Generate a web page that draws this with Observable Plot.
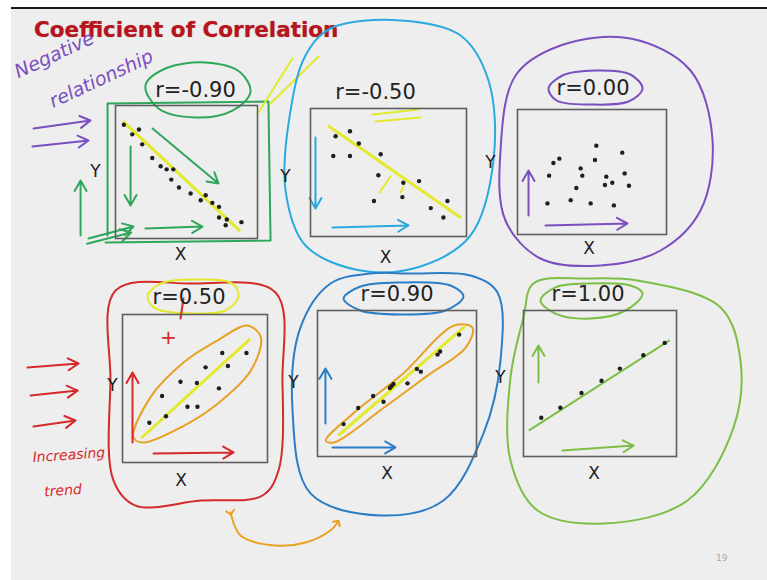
<!DOCTYPE html>
<html>
<head>
<meta charset="utf-8">
<script src="https://cdn.jsdelivr.net/npm/d3@7"></script>
<script src="https://cdn.jsdelivr.net/npm/@observablehq/plot@0.6"></script>
<style>
  html, body { margin: 0; padding: 0; background: #fff; }
  #slide { position: relative; width: 767px; height: 580px; overflow: hidden; background: #fff; }
  #sheet { position: absolute; left: 11px; top: 7px; right: 0; bottom: 0; background: #eeeeee; border-top: 2px solid #1b1b1b; }
  #title { position: absolute; left: 34px; top: 17px; font: bold 21.5px "DejaVu Sans", sans-serif; color: #b5151d; white-space: nowrap; text-shadow: 0 0 1px rgba(150,0,0,0.5); }
  #pageno { position: absolute; left: 716px; top: 553px; font: 9px "DejaVu Sans", sans-serif; color: #a8a8a8; }
  .panel { position: absolute; }
  .panel svg { overflow: visible !important; background: transparent !important; }
</style>
</head>
<body>
<div id="slide">
  <div id="sheet"></div>
  <div id="title">Coefficient of Correlation</div>
  <div id="pageno">19</div>
</div>
<script>
// Correlation labels, one per panel
const rLabels = ["r=-0.90", "r=-0.50", "r=0.00", "r=0.50", "r=0.90", "r=1.00"];

// Scatter points of each panel, [x, y] on a 0–10 scale
const pointsNeg90 = [[0.59,8.55],[1.18,7.83],[1.65,8.2],[1.88,7.08],[2.59,6.05],[3.18,5.43],[3.6,5.2],[4.07,5.2],[3.93,4.43],[4.47,3.83],[5.29,3.38],[6.0,2.88],[6.35,3.25],[6.82,2.68],[7.29,2.38],[7.29,1.58],[7.84,1.43],[7.76,1.0],[8.87,1.23]];
const pointsNeg50 = [[1.61,7.83],[2.53,8.22],[3.1,7.26],[1.46,6.29],[2.53,6.29],[4.5,6.42],[4.35,4.78],[5.95,4.2],[6.96,4.33],[4.07,2.77],[5.89,3.08],[8.78,2.77],[7.71,2.22],[8.52,1.49]];
const pointsZero = [[5.29,7.11],[7.03,6.55],[5.2,5.96],[2.41,5.72],[2.81,6.07],[4.24,5.29],[4.35,4.71],[2.12,4.71],[7.19,4.89],[5.96,4.63],[5.87,3.96],[6.36,4.14],[7.48,3.9],[3.95,3.72],[2.01,2.49],[3.57,2.75],[4.91,2.49],[6.47,2.33]];
const pointsPos50 = [[6.88,7.4],[8.55,7.4],[5.73,6.43],[7.27,6.52],[4.0,5.46],[5.13,5.37],[6.65,5.01],[2.73,4.49],[4.48,3.77],[5.17,3.77],[3.0,3.12],[1.85,2.69]];
const pointsPos90 = [[8.91,8.35],[7.71,7.19],[7.55,6.98],[6.25,6.0],[6.5,5.81],[5.66,5.01],[4.78,4.97],[4.65,4.81],[4.55,4.69],[3.5,4.14],[4.15,3.75],[2.56,3.32],[1.64,2.22]];
const pointsPos100 = [[1.16,2.65],[2.41,3.34],[3.79,4.35],[5.1,5.19],[6.3,6.02],[7.83,6.93],[9.23,7.78]];

// Pen annotations, in each panel's own units
const trendNeg90 = [[0.59,8.75],[8.71,0.63]];
const trendNeg50 = [[1.18,8.62],[9.59,1.51]];
const trendPos50 = [[1.34,1.69],[8.73,8.28]];
const trendPos90 = [[1.36,1.49],[9.22,8.86]];
const trendPos100 = [[0.39,1.81],[9.52,7.94]];

const boxNeg90 = [[-0.56,0.23],[-0.56,10.15],[10.77,10.3],[10.92,-0.15],[-0.7,-0.3]];
const ringNeg90 = [[2.11,11.5],[3.52,12.78],[6.34,13.23],[8.8,12.48],[9.5,10.98],[8.24,9.62],[5.63,9.1],[3.03,9.77]];
const arrowsNeg90 = [[1.06,6.92,1.06,2.48],[2.11,0.75,6.13,0.9],[2.61,8.27,7.25,4.14],[-2.46,0.23,-2.46,4.36],[-1.9,0,1.27,0.9],[-2.0,-0.4,1.1,0.45]];
const strokesNeg90 = [[[10.07,9.47],[12.46,13.53]],[[10.92,10.15],[14.3,13.68]]];
const purpleArrows = [[-5.77,8.27,-1.76,8.87],[-5.85,6.92,-1.9,7.37]];
const negativeNote = [["Negative", -4.3, 13.8], ["relationship", -1.0, 12.0]];

const loopNeg50 = [[1.28,16.25],[5.77,16.88],[9.62,15.7],[11.41,12.19],[11.73,5.94],[10.26,0.08],[7.05,-2.34],[3.21,-2.66],[-0.32,-0.7],[-1.6,3.59],[-1.28,9.84],[-0.32,14.14]];
const arrowsNeg50 = [[0.32,7.73,0.32,2.19],[1.41,0.7,6.28,0.86]];
const strokesNeg50 = [[[3.97,9.53],[6.92,9.92]],[[4.17,8.98],[7.05,9.3]],[[5.13,4.69],[4.42,3.44]],[[5.96,3.91],[5.77,3.44]]];

const loopZero = [[-0.13,12.72],[2.89,15.12],[7.58,15.68],[11.61,13.12],[13.09,7.52],[12.28,1.92],[9.6,-1.28],[5.57,-2.48],[1.54,-1.92],[-0.81,1.12],[-1.14,6.72]];
const ringZero = [[2.08,11.68],[3.02,12.72],[5.23,13.12],[7.58,12.8],[8.39,11.68],[7.45,10.64],[4.9,10.4],[2.62,10.72]];
const arrowsZero = [[0.74,1.52,0.74,5.12],[1.88,0.72,7.38,0.88]];

const loopPos50 = [[-0.48,11.62],[4.69,12.09],[10.55,11.49],[11.03,5.54],[10.76,-0.54],[9.66,-2.23],[5.38,-2.57],[0.9,-2.91],[-0.62,-1.22],[-0.83,5.54]];
const ringPos50 = [[1.72,11.22],[2.62,12.09],[5.03,12.36],[7.59,12.09],[8.0,11.22],[7.1,10.27],[4.69,10.07],[2.28,10.41]];
const cloudPos50 = [[0.76,1.69],[1.92,4.4],[4.23,6.77],[6.54,8.24],[8.61,9.26],[9.54,8.47],[8.85,6.21],[6.54,3.95],[4.23,2.48],[1.45,1.35]];
const arrowsPos50 = [[0.69,1.35,0.69,6.08],[2.14,0.61,7.66,0.68]];
const redArrows = [[-6.55,6.42,-3.03,6.69],[-6.34,4.53,-3.1,4.86],[-6.14,2.43,-3.24,2.84]];
const redTick = [[4.21,11.08],[4.0,9.73]];
const trendNote = [["Increasing", -3.7, 0.5], ["trend", -4.1, -1.9]];
const plusMark = [[3.17, 8.45]];
const linkCurve = [[7.45,-3.38],[8.14,-4.93],[10.55,-5.61],[12.62,-5.41],[14.34,-4.59],[14.83,-4.05]];

const loopPos90 = [[3.33,12.53],[5.85,12.53],[9.62,12.4],[11.32,11.23],[11.51,6.58],[10.44,1.58],[7.92,-3.01],[3.96,-4.04],[-0.44,-2.53],[-1.57,3.15],[-1.07,8.84],[0.82,11.85]];
const ringPos90 = [[1.64,10.82],[2.7,11.64],[5.22,11.92],[8.36,11.71],[9.18,10.96],[8.05,10.0],[5.22,9.73],[2.7,10.0]];
const cloudPos90 = [[0.52,1.08],[2.31,3.02],[5.24,5.54],[8.6,8.97],[9.75,8.81],[9.33,7.48],[6.92,5.54],[4.19,3.36],[1.05,0.96]];
const arrowsPos90 = [[0.5,2.26,0.5,6.03],[0.94,0.62,4.91,0.62]];

const loopPos100 = [[0.65,11.85],[4.18,12.19],[7.45,12.05],[12.88,10.21],[14.18,6.58],[13.73,1.99],[10.72,-3.01],[5.23,-4.59],[0.92,-3.7],[-0.85,-0.27],[-0.85,5.41],[0,9.52]];
const ringPos100 = [[1.11,10.68],[2.09,11.58],[4.38,11.85],[6.99,11.71],[7.78,11.16],[6.67,10.0],[4.38,9.45],[2.09,9.79]];
const arrowsPos100 = [[0.98,5.07,0.98,7.6],[2.55,0.41,7.19,0.75]];

// Pen colours
const ink = {
  green: "#2fa75b", blue: "#2aa9e0", purple: "#7b4fbf", red: "#d42a2a",
  navy: "#2b7dc6", lime: "#7dbf45", yellow: "#e3ea2e", orange: "#e8a223"
};

// Where each panel's frame sits on the slide, and text offsets around it
const layout = [
  {left: 115, top: 105, width: 142, height: 133, lab: [9, -15],  xl: [-6, 16],  yl: [-20, 0]},
  {left: 310, top: 108, width: 156, height: 128, lab: [-13, -16], xl: [-3, 21], yl: [-25, 4]},
  {left: 517, top: 109, width: 149, height: 125, lab: [1, -21],  xl: [-3, 14],  yl: [-27, -9]},
  {left: 122, top: 314, width: 145, height: 148, lab: [-6, -17], xl: [-14, 18], yl: [-10, -3]},
  {left: 317, top: 310, width: 159, height: 146, lab: [0, -16],  xl: [-10, 17], yl: [-24, -1]},
  {left: 523, top: 310, width: 153, height: 146, lab: [-12, -16], xl: [-6, 17], yl: [-23, -6]}
];

const px = d => d[0], py = d => d[1];
const pen = (pts, stroke, curve = "linear", w = 2) =>
  Plot.line(pts, {x: px, y: py, curve, stroke, strokeWidth: w, strokeLinecap: "round", strokeLinejoin: "round"});
const ring = (pts, stroke, w = 2) => pen(pts, stroke, "catmull-rom-closed", w);
const penArrows = (list, stroke) =>
  Plot.arrow(list, {x1: d => d[0], y1: d => d[1], x2: d => d[2], y2: d => d[3], stroke, strokeWidth: 2, headLength: 9});
const note = (list, fill, size, rotate) =>
  Plot.text(list, {x: d => d[1], y: d => d[2], text: d => d[0], fill, fontSize: size, rotate,
    fontFamily: "DejaVu Sans", fontStyle: "italic", textAnchor: "middle"});

const annotations = [
  [
    pen(boxNeg90, ink.green), ring(ringNeg90, ink.green), penArrows(arrowsNeg90, ink.green),
    pen(trendNeg90, ink.yellow, "linear", 3),
    ...strokesNeg90.map(s => pen(s, ink.yellow)),
    penArrows(purpleArrows, ink.purple), note(negativeNote, ink.purple, 19, -25)
  ],
  [
    ring(loopNeg50, ink.blue), penArrows(arrowsNeg50, ink.blue),
    pen(trendNeg50, ink.yellow, "linear", 3), ...strokesNeg50.map(s => pen(s, ink.yellow))
  ],
  [
    ring(loopZero, ink.purple), ring(ringZero, ink.purple), penArrows(arrowsZero, ink.purple)
  ],
  [
    ring(loopPos50, ink.red), ring(ringPos50, ink.yellow), ring(cloudPos50, ink.orange),
    pen(trendPos50, ink.yellow, "linear", 3), penArrows(arrowsPos50, ink.red), penArrows(redArrows, ink.red),
    pen(redTick, ink.red), note(trendNote, ink.red, 14, -4),
    Plot.text(plusMark, {x: px, y: py, text: () => "+", fill: ink.red, fontSize: 20, fontFamily: "DejaVu Sans"}),
    Plot.line(linkCurve, {x: px, y: py, curve: "catmull-rom", stroke: ink.orange, strokeWidth: 2, markerStart: "arrow", markerEnd: "arrow"})
  ],
  [
    ring(loopPos90, ink.navy), ring(ringPos90, ink.navy), ring(cloudPos90, ink.orange),
    pen(trendPos90, ink.yellow, "linear", 3), penArrows(arrowsPos90, ink.navy)
  ],
  [
    ring(loopPos100, ink.lime), ring(ringPos100, ink.lime), penArrows(arrowsPos100, ink.lime),
    pen(trendPos100, ink.lime, "linear", 2)
  ]
];

const panelPoints = [pointsNeg90, pointsNeg50, pointsZero, pointsPos50, pointsPos90, pointsPos100];
const slide = document.getElementById("slide");

panelPoints.forEach((points, i) => {
  const L = layout[i];
  const chart = Plot.plot({
    width: L.width,
    height: L.height,
    margin: 0,
    x: {domain: [0, 10], axis: null},
    y: {domain: [0, 10], axis: null},
    style: {background: "transparent", overflow: "visible"},
    marks: [
      ...annotations[i],
      Plot.frame({stroke: "#5e5e5e", strokeWidth: 1.6}),
      Plot.dot(points, {x: px, y: py, r: 2.2, fill: "#1f1f1f"}),
      Plot.text([rLabels[i]], {text: d => d, frameAnchor: "top", dx: L.lab[0], dy: L.lab[1],
        lineAnchor: "middle", fontSize: 21, fontFamily: "DejaVu Sans", fill: "#222"}),
      Plot.text(["X"], {text: d => d, frameAnchor: "bottom", dx: L.xl[0], dy: L.xl[1],
        lineAnchor: "middle", fontSize: 17, fontFamily: "DejaVu Sans", fill: "#222"}),
      Plot.text(["Y"], {text: d => d, frameAnchor: "left", dx: L.yl[0], dy: L.yl[1],
        textAnchor: "middle", lineAnchor: "middle", fontSize: 17, fontFamily: "DejaVu Sans", fill: "#222"})
    ]
  });
  const holder = document.createElement("div");
  holder.className = "panel";
  holder.style.left = L.left + "px";
  holder.style.top = L.top + "px";
  holder.appendChild(chart);
  slide.appendChild(holder);
});
</script>
</body>
</html>
